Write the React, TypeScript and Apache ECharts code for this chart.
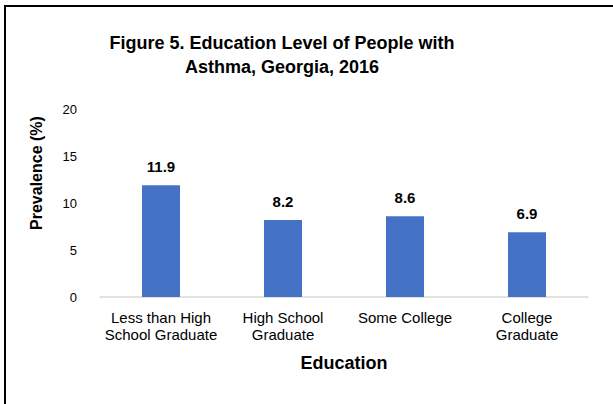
import React, { useEffect, useRef } from "react";
import * as echarts from "echarts";

const categories = ["Less than High\nSchool Graduate", "High School\nGraduate", "Some College", "College\nGraduate"];
const prevalence = [11.9, 8.2, 8.6, 6.9];
const titleText = "Figure 5. Education Level of People with\nAsthma, Georgia, 2016";
const yName = "Prevalence (%)";
const xName = "Education";

const FONT = "Liberation Sans, Arial, sans-serif";

export default function App() {
  const ref = useRef<HTMLDivElement>(null);
  useEffect(() => {
    document.body.style.margin = "0";
    if (!ref.current) return;
    const chart = echarts.init(ref.current, null, { renderer: "svg" });
    chart.setOption({
      animation: false,
      backgroundColor: "#ffffff",
      title: {
        text: titleText,
        left: 277,
        top: 26,
        textAlign: "center",
        textStyle: { fontFamily: FONT, fontSize: 18, fontWeight: "bold", color: "#000", lineHeight: 24 },
      },
      graphic: [
        { type: "line", shape: { x1: 5, y1: 6, x2: 613, y2: 6 }, style: { stroke: "#000", lineWidth: 2 } },
        { type: "line", shape: { x1: 5, y1: 5, x2: 5, y2: 404 }, style: { stroke: "#000", lineWidth: 2 } },
        {
          type: "text",
          x: 36,
          y: 173,
          rotation: Math.PI / 2,
          style: {
            text: yName,
            fontFamily: FONT,
            fontSize: 16,
            fontWeight: "bold",
            fill: "#000",
            align: "center",
            verticalAlign: "middle",
          },
        },
      ],
      grid: { left: 100, right: 25, top: 109, bottom: 107, containLabel: false },
      xAxis: {
        type: "category",
        data: categories,
        name: xName,
        nameLocation: "middle",
        nameGap: 57,
        nameTextStyle: { fontFamily: FONT, fontSize: 18, fontWeight: "bold", color: "#000" },
        axisLine: { lineStyle: { color: "#d9d9d9", width: 1.5 } },
        axisTick: { show: false },
        axisLabel: { fontFamily: FONT, fontSize: 15, color: "#000", lineHeight: 17, margin: 12, interval: 0 },
      },
      yAxis: {
        type: "value",
        min: 0,
        max: 20,
        interval: 5,
        axisLine: { show: false },
        axisTick: { show: false },
        splitLine: { show: false },
        axisLabel: { fontFamily: FONT, fontSize: 13, color: "#000", margin: 23 },
      },
      series: [
        {
          type: "bar",
          data: prevalence,
          barWidth: 38,
          itemStyle: { color: "#4472c4" },
          label: {
            show: true,
            position: "top",
            distance: 11,
            fontFamily: FONT,
            fontSize: 15,
            fontWeight: "bold",
            color: "#000",
            formatter: (p: any) => p.value.toFixed(1),
          },
        },
      ],
    });
    return () => chart.dispose();
  }, []);
  return <div ref={ref} style={{ width: 613, height: 404 }} />;
}
